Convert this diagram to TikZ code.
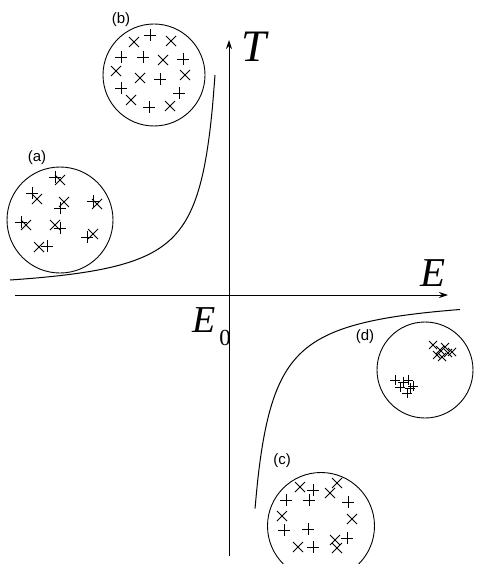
\documentclass[tikz,border=0pt]{standalone}
\usepackage{fontspec}
\setmainfont{Liberation Serif}
\setsansfont{Liberation Sans}
\usetikzlibrary{arrows.meta}
\tikzset{
  clu/.style={draw, circle, line width=0.9pt, inner sep=0pt},
  axis/.style={line width=1pt, -{Stealth[length=9pt,width=6pt]}},
  curve/.style={line width=1pt},
  lab/.style={font=\sffamily\fontsize{15}{15}\selectfont, inner sep=0pt},
  big/.style={font=\itshape\fontsize{45}{45}\selectfont, inner sep=0pt},
  pl/.pic={\draw[line width=0.9pt] (-6,0)--(6,0) (0,-6)--(0,6);},
  cr/.pic={\draw[line width=0.9pt] (-5,-5)--(5,5) (-5,5)--(5,-5);},
  spl/.pic={\draw[line width=0.8pt] (-5,0)--(5,0) (0,-5)--(0,5);},
  scr/.pic={\draw[line width=0.8pt] (-4,-4)--(4,4) (-4,4)--(4,-4);}
}
\begin{document}
\begin{tikzpicture}[x=1pt,y=-1pt]
\useasboundingbox (0,0) rectangle (476,564);
% axes
\coordinate (xl) at (15,295);
\coordinate (xr) at (448,295);
\coordinate (yb) at (229,556);
\coordinate (yt) at (229,40);
\draw[axis] (xl) -- (xr);
\draw[axis] (yb) -- (yt);
\node[big] (T) at (254,47) {T};
\node[big, font=\itshape\fontsize{41}{41}\selectfont] (E) at (433,273) {E};
\node[big, font=\itshape\fontsize{38}{38}\selectfont, anchor=east] (E0) at (216,320) {E};
\node[inner sep=0pt, font=\fontsize{23}{23}\selectfont] (zero) at (225,338) {0};
% curves
\draw[curve] plot[domain=10:215, samples=80, smooth] (\x, {295-3300/(230-\x)});
\draw[curve] plot[domain=255:460, samples=80, smooth] (\x, {292+3900/(\x-237)});
% clusters
\node[clu, minimum size=106pt] (A) at (60,220) {};
\node[clu, minimum size=102pt] (B) at (154,75) {};
\node[clu, minimum size=107pt] (C) at (321,526) {};
\node[clu, minimum size=96pt] (D) at (425,370) {};
\node[lab] (la) at (37,158) {(a)};
\node[lab] (lb) at (121,20) {(b)};
\node[lab] (lc) at (282,461) {(c)};
\node[lab] (ld) at (365,337) {(d)};
% (b) markers
\foreach \p in {(150,35),(121,57),(143,57),(183,59),(160,79),(121,88),(179,93),(149,107)} \pic at \p {pl};
\foreach \p in {(134,42),(171,41),(163,60),(116,71),(140,78),(185,75),(131,100),(170,106)} \pic at \p {cr};
% (a) markers
\foreach \p in {(55,177),(32,193),(60,208),(93,201),(21,222),(60,228),(87,237),(47,246)} \pic at \p {pl};
\foreach \p in {(60,180),(37,199),(64,202),(97,204),(26,225),(55,225),(93,234),(39,247)} \pic at \p {cr};
% (c) markers
\foreach \p in {(313,490),(286,500),(309,500),(348,502),(284,530),(308,529),(347,538),(313,547)} \pic at \p {pl};
\foreach \p in {(300,487),(330,493),(337,483),(282,516),(352,519),(298,547),(335,540),(337,548)} \pic at \p {cr};
% (d) markers
\foreach \p in {(433,345),(440,350),(445,347),(448,353),(442,357),(452,352),(437,355)} \pic at \p {scr};
\foreach \p in {(395,380),(403,382),(408,380),(400,387),(410,388),(407,393),(413,386)} \pic at \p {spl};
\end{tikzpicture}
\end{document}
